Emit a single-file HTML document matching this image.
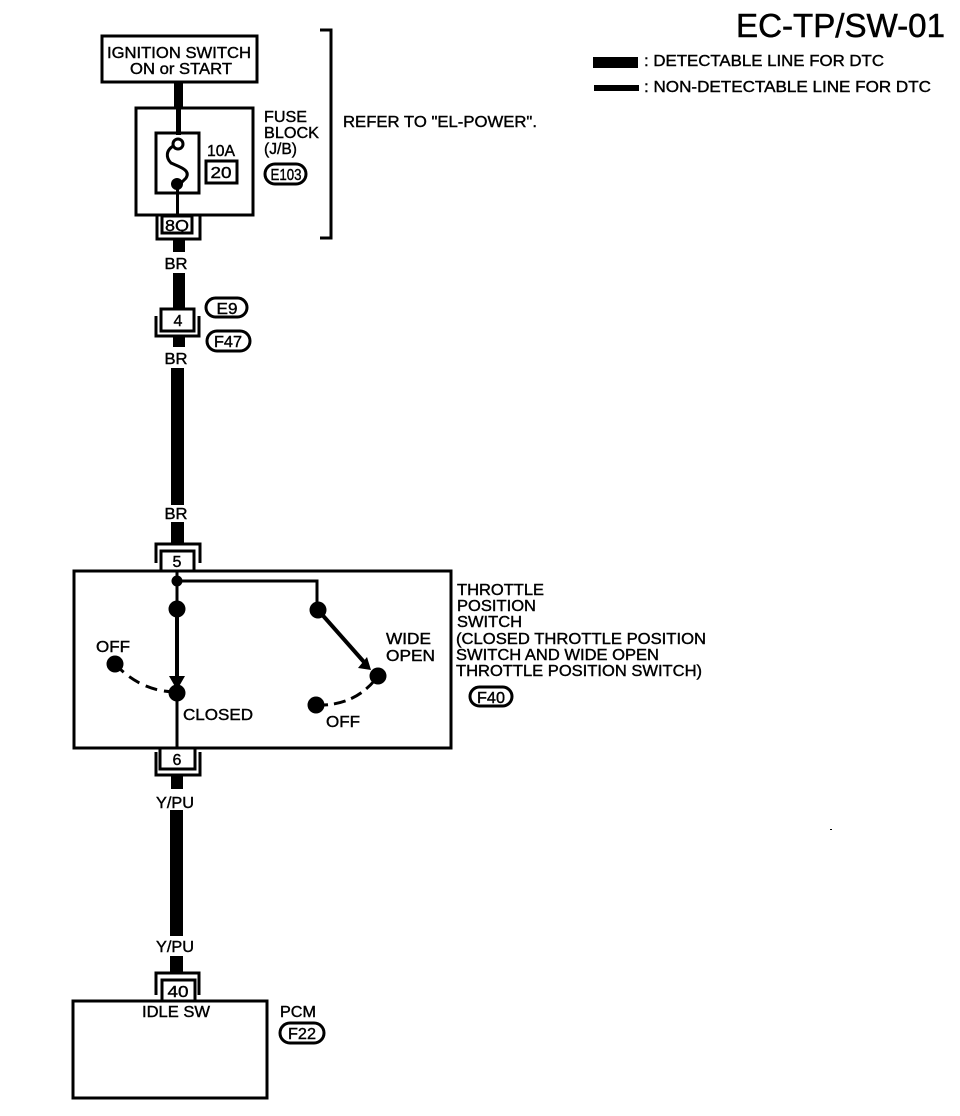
<!DOCTYPE html>
<html><head><meta charset="utf-8"><style>
html,body{margin:0;padding:0;background:#fff;width:960px;height:1116px;overflow:hidden}
svg{display:block}
text{font-family:"Liberation Sans",sans-serif;font-size:16px;fill:#000;stroke:#000;stroke-width:.4}
.b{fill:#fff;stroke:#000;stroke-width:3}
.n{fill:none;stroke:#000;stroke-width:3}
.m{text-anchor:middle}
</style></head><body>
<svg width="960" height="1116" viewBox="0 0 960 1116" xmlns="http://www.w3.org/2000/svg">
<!-- thick wires -->
<rect x="174" y="82" width="9" height="25"/>
<rect x="176" y="107" width="5" height="28"/>
<rect x="173" y="240" width="12" height="12"/>
<rect x="173" y="273" width="12" height="36"/>
<rect x="173" y="337" width="12" height="10"/>
<rect x="171" y="368" width="13" height="137"/>
<rect x="171" y="522" width="13" height="22"/>
<rect x="171" y="775" width="12" height="14"/>
<rect x="170" y="810" width="13" height="126"/>
<rect x="170" y="956" width="13" height="17"/>

<!-- ignition -->
<rect class="b" x="102" y="36" width="155" height="46"/>
<text x="107" y="58" textLength="144" lengthAdjust="spacingAndGlyphs">IGNITION SWITCH</text>
<text x="130" y="74" textLength="102" lengthAdjust="spacingAndGlyphs">ON or START</text>

<!-- fuse block -->
<rect class="n" x="136" y="108" width="117" height="107"/>
<rect class="b" x="156" y="133" width="43" height="60"/>
<rect x="176" y="107" width="5" height="28"/>
<path d="M175 145 C165 150 166 158 171 163 C180 167 191 170 186 178 L178 186" fill="none" stroke="#000" stroke-width="3"/>
<circle cx="178" cy="144" r="5" fill="#fff" stroke="#000" stroke-width="3"/>
<circle cx="177" cy="184" r="6"/>
<rect x="176" y="188" width="3" height="27"/>
<text x="207" y="156" textLength="28" lengthAdjust="spacingAndGlyphs">10A</text>
<rect class="b" x="206" y="161" width="31" height="22"/>
<text class="m" x="221" y="178" textLength="21" lengthAdjust="spacingAndGlyphs">20</text>
<text x="264" y="122" textLength="43" lengthAdjust="spacingAndGlyphs">FUSE</text>
<text x="264" y="138" textLength="55" lengthAdjust="spacingAndGlyphs">BLOCK</text>
<text x="264" y="154" textLength="33" lengthAdjust="spacingAndGlyphs">(J/B)</text>
<rect class="b" x="265" y="164" width="41" height="20" rx="10"/>
<text class="m" x="286" y="180" textLength="31" lengthAdjust="spacingAndGlyphs">E103</text>

<!-- bracket -->
<path class="n" d="M320 30 H331 V238 H320"/>
<text x="343" y="127" textLength="194" lengthAdjust="spacingAndGlyphs">REFER TO "EL-POWER".</text>

<!-- 8Q -->
<path class="n" d="M157 215 V239 H200 V215"/>
<rect class="b" x="162" y="216" width="30" height="17"/>
<text class="m" x="177" y="231" textLength="24" lengthAdjust="spacingAndGlyphs">8Q</text>
<text class="m" x="176" y="269" textLength="23" lengthAdjust="spacingAndGlyphs">BR</text>

<!-- 4 -->
<path class="n" d="M156 316 V336 H199 V316"/>
<rect class="b" x="161" y="309" width="33" height="22"/>
<text class="m" x="178" y="326">4</text>
<rect class="b" x="206" y="298" width="41" height="19" rx="9.5"/>
<text class="m" x="227" y="314" textLength="21" lengthAdjust="spacingAndGlyphs">E9</text>
<rect class="b" x="207" y="331" width="43" height="20" rx="10"/>
<text class="m" x="228" y="347" textLength="28" lengthAdjust="spacingAndGlyphs">F47</text>
<text class="m" x="176" y="364" textLength="23" lengthAdjust="spacingAndGlyphs">BR</text>
<text class="m" x="176" y="519" textLength="23" lengthAdjust="spacingAndGlyphs">BR</text>

<!-- 5 -->
<path class="n" d="M156 563 V544 H200 V563"/>
<rect class="b" x="161" y="551" width="33" height="20"/>
<text class="m" x="177" y="567">5</text>

<!-- switch -->
<rect class="n" x="74" y="571" width="377" height="177"/>
<path d="M177 571 V750" stroke="#000" stroke-width="3" fill="none"/>
<path d="M177 609 V690" stroke="#000" stroke-width="4" fill="none"/>
<path d="M177 581 H317 V610" stroke="#000" stroke-width="3" fill="none"/>
<circle cx="177" cy="581" r="5.5"/>
<circle cx="177" cy="609" r="8.5"/>
<circle cx="318" cy="610" r="8.5"/>
<circle cx="177" cy="693" r="8.5"/>
<circle cx="115" cy="664" r="8.5"/>
<circle cx="378" cy="676" r="8.5"/>
<circle cx="316" cy="705" r="8.5"/>
<path d="M169 676 H185 L177 690 Z"/>
<path d="M318 610 L364 662" stroke="#000" stroke-width="4" fill="none"/>
<path d="M371 670 L358 668 L367 657 Z"/>
<path d="M115 664 C130 680 150 692 177 692" fill="none" stroke="#000" stroke-width="3" stroke-dasharray="12 7"/>
<path d="M316 705 C340 706 362 698 378 676" fill="none" stroke="#000" stroke-width="3" stroke-dasharray="12 6"/>
<text x="96" y="652" textLength="34" lengthAdjust="spacingAndGlyphs">OFF</text>
<text x="183" y="720" textLength="70" lengthAdjust="spacingAndGlyphs">CLOSED</text>
<text x="326" y="727" textLength="34" lengthAdjust="spacingAndGlyphs">OFF</text>
<text x="386" y="644" textLength="45" lengthAdjust="spacingAndGlyphs">WIDE</text>
<text x="386" y="661" textLength="49" lengthAdjust="spacingAndGlyphs">OPEN</text>
<text x="457" y="595" textLength="87" lengthAdjust="spacingAndGlyphs">THROTTLE</text>
<text x="457" y="611" textLength="79" lengthAdjust="spacingAndGlyphs">POSITION</text>
<text x="457" y="627" textLength="65" lengthAdjust="spacingAndGlyphs">SWITCH</text>
<text x="456" y="644" textLength="250" lengthAdjust="spacingAndGlyphs">(CLOSED THROTTLE POSITION</text>
<text x="456" y="660" textLength="203" lengthAdjust="spacingAndGlyphs">SWITCH AND WIDE OPEN</text>
<text x="456" y="676" textLength="246" lengthAdjust="spacingAndGlyphs">THROTTLE POSITION SWITCH)</text>
<rect class="b" x="470" y="687" width="42" height="19" rx="9.5"/>
<text class="m" x="491" y="703" textLength="28" lengthAdjust="spacingAndGlyphs">F40</text>

<!-- 6 -->
<path class="n" d="M156 752 V775 H200 V752"/>
<rect class="b" x="160" y="748" width="35" height="21"/>
<text class="m" x="177" y="765">6</text>
<text class="m" x="175" y="808" textLength="38" lengthAdjust="spacingAndGlyphs">Y/PU</text>
<text class="m" x="175" y="952" textLength="38" lengthAdjust="spacingAndGlyphs">Y/PU</text>

<!-- 40 -->
<path class="n" d="M156 995 V973 H199 V995"/>
<rect class="b" x="162" y="980" width="33" height="21"/>
<text class="m" x="178" y="997" textLength="21" lengthAdjust="spacingAndGlyphs">40</text>

<!-- PCM -->
<rect class="n" x="73" y="1001" width="194" height="97"/>
<text x="142" y="1017" textLength="68" lengthAdjust="spacingAndGlyphs">IDLE SW</text>
<text x="280" y="1017" textLength="36" lengthAdjust="spacingAndGlyphs">PCM</text>
<rect class="b" x="280" y="1023" width="44" height="20" rx="10"/>
<text class="m" x="302" y="1039" textLength="28" lengthAdjust="spacingAndGlyphs">F22</text>

<!-- header -->
<text x="736" y="37" style="font-size:33px;stroke-width:.5" textLength="209" lengthAdjust="spacingAndGlyphs">EC-TP/SW-01</text>
<rect x="593" y="57" width="45" height="11"/>
<text x="644" y="66" textLength="240" lengthAdjust="spacingAndGlyphs">: DETECTABLE LINE FOR DTC</text>
<rect x="594" y="85" width="45" height="6"/>
<text x="644" y="92" textLength="287" lengthAdjust="spacingAndGlyphs">: NON-DETECTABLE LINE FOR  DTC</text>
<rect x="830" y="829" width="2" height="1"/>
</svg>
</body></html>
